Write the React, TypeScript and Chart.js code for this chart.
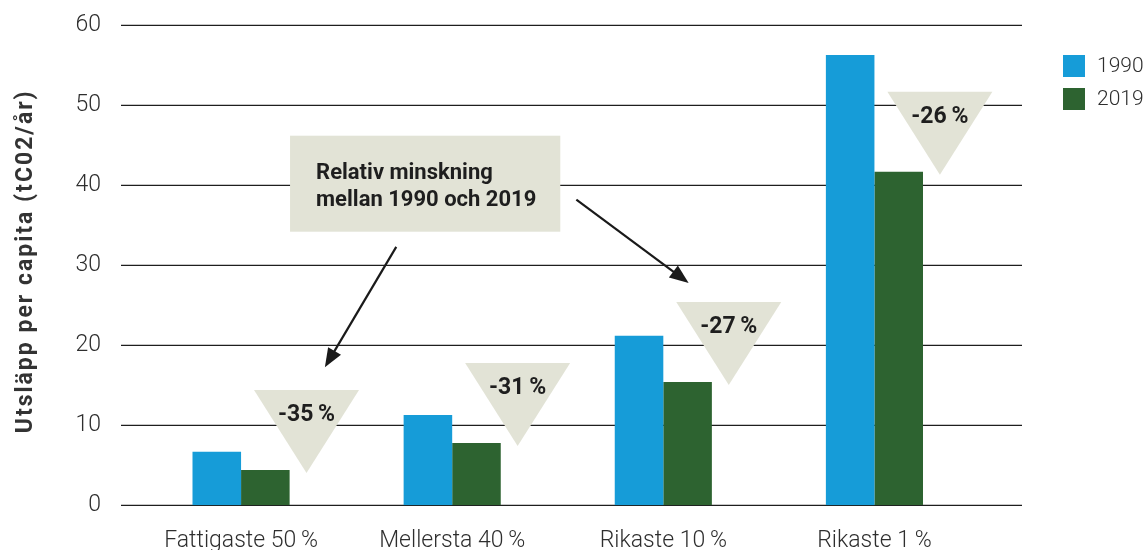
import React, { useEffect, useRef } from "react";
import { Chart, registerables } from "chart.js";

Chart.register(...registerables);

// ---- data ----
const categories = ["Fattigaste 50\u2009%", "Mellersta 40\u2009%", "Rikaste 10\u2009%", "Rikaste 1\u2009%"];
const seriesNames = ["1990", "2019"];
const values1990 = [6.7, 11.3, 21.2, 56.3];
const values2019 = [4.4, 7.8, 15.4, 41.7];
const changeLabels = ["-35\u2009%", "-31\u2009%", "-27\u2009%", "-26\u2009%"];
const yMin = 0;
const yMax = 60;
const yStep = 10;
const yTitle = "Utsläpp per capita (tC02/år)";
const calloutLines = ["Relativ minskning", "mellan 1990 och 2019"];

// ---- styles ----
const BLUE = "#169cd8";
const GREEN = "#2d6330";
const BEIGE = "#e2e3d6";
const TEXT = "#2e2e2e";
const FONT = "Roboto, 'Noto Sans', sans-serif";

const zeroPad = (s: any) => {
  s.paddingTop = 0;
  s.paddingBottom = 0;
  s.paddingLeft = 0;
  s.paddingRight = 0;
};

const overlayPlugin = {
  id: "overlay",
  beforeDatasetsDraw(chart: any) {
    const { ctx, chartArea, scales } = chart;
    const y = scales.y;
    ctx.save();
    ctx.strokeStyle = "#1e1e1e";
    ctx.lineWidth = 1.2;
    for (let v = yMin; v <= yMax; v += yStep) {
      const py = y.getPixelForValue(v);
      ctx.beginPath();
      ctx.moveTo(chartArea.left - 14.5, py);
      ctx.lineTo(chartArea.right + 42, py);
      ctx.stroke();
    }
    ctx.restore();
  },
  afterDatasetsDraw(chart: any) {
    const { ctx, chartArea, scales } = chart;
    const x = scales.x;
    const y = scales.y;
    const cw = x.getPixelForValue(1) - x.getPixelForValue(0);
    const cx = (v: number) => x.getPixelForValue(0) + v * cw;

    // triangles with relative change
    ctx.save();
    changeLabels.forEach((lab, i) => {
      const mx = x.getPixelForValue(i) + 0.31 * cw;
      const apex = y.getPixelForValue(values2019[i]) + 3;
      const top = apex - 83;
      ctx.fillStyle = BEIGE;
      ctx.beginPath();
      ctx.moveTo(mx - 52.5, top);
      ctx.lineTo(mx + 52.5, top);
      ctx.lineTo(mx, apex);
      ctx.closePath();
      ctx.fill();
      ctx.fillStyle = "#1e1e1e";
      ctx.font = `bold 23px ${FONT}`;
      ctx.textAlign = "center";
      ctx.textBaseline = "alphabetic";
      ctx.fillText(lab, mx, top + 31);
    });
    ctx.restore();

    // callout box
    ctx.save();
    const bx0 = cx(0.232);
    const bx1 = cx(1.512);
    const by0 = y.getPixelForValue(46.2);
    const by1 = y.getPixelForValue(34.2);
    ctx.fillStyle = BEIGE;
    ctx.fillRect(bx0, by0, bx1 - bx0, by1 - by0);
    ctx.fillStyle = "#1e1e1e";
    ctx.font = `bold 22px ${FONT}`;
    ctx.textAlign = "left";
    ctx.textBaseline = "alphabetic";
    ctx.fillText(calloutLines[0], bx0 + 26, by0 + 43);
    ctx.fillText(calloutLines[1], bx0 + 26, by0 + 70);
    ctx.restore();

    // arrows
    const arrow = (x0: number, y0: number, x1: number, y1: number) => {
      const ang = Math.atan2(y1 - y0, x1 - x0);
      const L = 19;
      const W = 7.5;
      ctx.save();
      ctx.strokeStyle = "#1a1a1a";
      ctx.fillStyle = "#1a1a1a";
      ctx.lineWidth = 2.2;
      ctx.beginPath();
      ctx.moveTo(x0, y0);
      ctx.lineTo(x1 - Math.cos(ang) * (L - 2), y1 - Math.sin(ang) * (L - 2));
      ctx.stroke();
      ctx.beginPath();
      ctx.moveTo(x1, y1);
      const bxp = x1 - Math.cos(ang) * L;
      const byp = y1 - Math.sin(ang) * L;
      ctx.lineTo(bxp + Math.sin(ang) * W, byp - Math.cos(ang) * W);
      ctx.lineTo(bxp - Math.sin(ang) * W, byp + Math.cos(ang) * W);
      ctx.closePath();
      ctx.fill();
      ctx.restore();
    };
    arrow(cx(0.735), y.getPixelForValue(32.3), cx(0.397), y.getPixelForValue(17.25));
    arrow(cx(1.588), y.getPixelForValue(38.2), cx(2.12), y.getPixelForValue(27.8));

    // legend
    ctx.save();
    const lx = chartArea.right + 83;
    const colors = [BLUE, GREEN];
    seriesNames.forEach((name, i) => {
      const top = 55 + i * 33;
      ctx.fillStyle = colors[i];
      ctx.fillRect(lx, top, 22, 22);
      ctx.fillStyle = TEXT;
      ctx.font = `300 21px ${FONT}`;
      ctx.textAlign = "left";
      ctx.textBaseline = "alphabetic";
      ctx.fillText(name, lx + 34, top + 17);
    });
    ctx.restore();

    // y title
    ctx.save();
    ctx.translate(31.7, (chartArea.top + chartArea.bottom) / 2 - 4);
    ctx.rotate(-Math.PI / 2);
    ctx.fillStyle = "#333333";
    ctx.font = `bold 23px ${FONT}`;
    (ctx as any).letterSpacing = "2px";
    ctx.textAlign = "center";
    ctx.textBaseline = "alphabetic";
    ctx.fillText(yTitle, 0, 0);
    ctx.restore();
  },
};

export default function App() {
  const ref = useRef<HTMLCanvasElement | null>(null);
  useEffect(() => {
    if (!ref.current) return;
    const chart = new Chart(ref.current, {
      type: "bar",
      data: {
        labels: categories,
        datasets: [
          { label: seriesNames[0], data: values1990, backgroundColor: BLUE, barPercentage: 1, categoryPercentage: 0.46 },
          { label: seriesNames[1], data: values2019, backgroundColor: GREEN, barPercentage: 1, categoryPercentage: 0.46 },
        ],
      },
      options: {
        responsive: false,
        animation: false,
        layout: { padding: { left: 0, right: 163, top: 25.3, bottom: 0 } },
        plugins: { legend: { display: false }, tooltip: { enabled: false } },
        scales: {
          x: {
            grid: { display: false, drawTicks: false },
            border: { display: false },
            ticks: { color: TEXT, font: { family: FONT, size: 23, weight: "300" }, padding: 22, maxRotation: 0 },
            afterFit: (s: any) => {
              s.height = 44.7;
              zeroPad(s);
            },
          },
          y: {
            min: yMin,
            max: yMax,
            grid: { display: false, drawTicks: false },
            border: { display: false },
            ticks: { stepSize: yStep, color: TEXT, font: { family: FONT, size: 23, weight: "300" }, padding: 34.5 },
            afterFit: (s: any) => {
              s.width = 135.5;
              zeroPad(s);
            },
          },
        },
      },
      plugins: [overlayPlugin],
    });
    return () => chart.destroy();
  }, []);
  return (
    <div style={{ position: "fixed", left: 0, top: 0, width: 1143, height: 550, background: "#fff" }}>
      <canvas ref={ref} width={1143} height={550} style={{ width: 1143, height: 550, display: "block" }} />
    </div>
  );
}
